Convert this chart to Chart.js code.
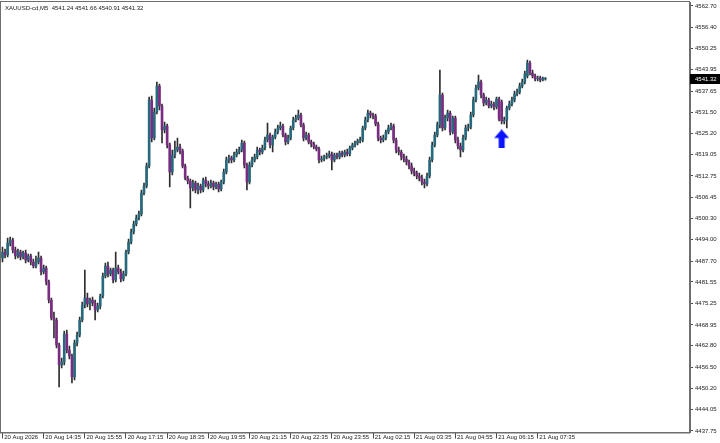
<!DOCTYPE html>
<html>
<head>
<meta charset="utf-8">
<script src="https://cdn.jsdelivr.net/npm/chart.js@4.4.1/dist/chart.umd.min.js"></script>
<style>
  html, body { margin: 0; padding: 0; background: #fff; }
</style>
</head>
<body>
<canvas id="chart" width="720" height="443"></canvas>
<script>
// XAUUSD M5, one entry per bar, left to right
const symbol = 'XAUUSD-cd,M5';

const opens = [
  4488.61,4490.37,4489.49,4493.02,4493.90,4490.96,4489.20,4490.37,4488.90,4490.08,
  4488.02,4489.20,4487.43,4486.26,4487.43,4488.61,4484.49,4485.67,4481.55,4476.26,
  4470.97,4470.38,4463.03,4457.15,4458.03,4466.26,4461.56,4459.80,4453.62,4463.62,
  4465.97,4470.38,4474.79,4476.85,4475.08,4476.26,4475.38,4473.32,4474.50,4477.44,
  4483.32,4486.26,4483.90,4485.08,4482.14,4485.67,4484.49,4482.43,4483.90,4490.37,
  4493.31,4496.25,4498.60,4500.37,4501.54,4507.72,4509.78,4515.66,4535.06,4523.89,
  4531.53,4539.18,4533.30,4526.24,4527.42,4521.83,4513.89,4518.89,4520.36,4521.24,
  4520.07,4515.66,4512.13,4511.25,4509.19,4510.66,4508.60,4509.78,4508.60,4511.54,
  4510.36,4509.78,4510.66,4509.48,4510.36,4508.89,4510.95,4513.89,4517.42,4518.01,
  4517.42,4518.89,4519.77,4520.36,4522.42,4515.95,4510.95,4515.95,4517.42,4518.30,
  4520.36,4519.77,4520.95,4523.30,4524.77,4521.83,4524.18,4525.65,4526.83,4527.42,
  4524.77,4522.71,4523.89,4526.83,4529.18,4529.77,4530.65,4527.71,4523.89,4524.77,
  4522.71,4522.12,4521.24,4520.65,4517.42,4517.71,4518.30,4518.60,4519.18,4517.42,
  4518.89,4518.30,4519.48,4518.89,4519.77,4519.18,4520.95,4521.83,4522.42,4523.01,
  4523.30,4526.83,4529.18,4531.24,4530.65,4530.36,4528.00,4523.89,4523.30,4523.89,
  4525.65,4526.83,4527.42,4523.30,4520.36,4519.77,4518.30,4517.71,4516.83,4515.66,
  4514.19,4513.60,4512.72,4512.13,4510.95,4510.36,4512.72,4517.42,4521.83,4524.77,
  4527.71,4536.53,4526.83,4529.77,4531.24,4525.65,4529.77,4523.30,4521.54,4520.36,
  4523.89,4526.83,4527.12,4530.65,4535.06,4538.59,4540.35,4536.53,4534.18,4535.06,
  4533.30,4533.88,4533.00,4535.35,4534.47,4528.89,4529.18,4532.71,4533.88,4535.06,
  4536.82,4537.41,4539.18,4540.35,4542.12,4545.94,4543.00,4542.12,4541.23,4541.53,
  4540.94,4541.24
];

const highs = [
  4491.84,4491.25,4494.49,4494.78,4494.49,4491.84,4491.25,4490.96,4490.67,4490.96,
  4489.78,4489.78,4488.31,4489.20,4490.37,4489.20,4486.55,4486.26,4482.14,4476.85,
  4472.73,4470.97,4463.62,4459.21,4467.15,4467.44,4462.74,4460.38,4464.50,4466.85,
  4471.26,4475.67,4485.08,4478.32,4476.85,4477.14,4476.26,4475.38,4478.02,4484.20,
  4487.14,4487.43,4485.67,4485.67,4490.37,4486.55,4485.37,4484.79,4490.96,4494.19,
  4497.13,4499.49,4501.25,4502.43,4508.60,4510.66,4516.54,4535.94,4536.24,4532.71,
  4540.35,4539.76,4533.88,4528.59,4528.00,4522.42,4520.36,4523.01,4523.89,4522.12,
  4520.65,4516.24,4512.72,4511.83,4511.54,4511.25,4510.66,4510.36,4512.13,4512.42,
  4511.25,4511.54,4511.25,4510.95,4510.95,4511.54,4514.77,4518.30,4518.89,4518.60,
  4519.77,4520.65,4521.24,4523.30,4523.01,4516.54,4516.83,4518.30,4519.18,4521.24,
  4520.95,4521.83,4524.18,4528.30,4525.36,4524.77,4526.53,4527.71,4528.59,4528.00,
  4525.36,4524.77,4527.42,4530.06,4530.65,4532.12,4531.24,4528.30,4525.65,4525.36,
  4523.30,4522.71,4521.83,4521.24,4518.60,4518.89,4519.48,4520.07,4519.77,4519.48,
  4519.48,4520.07,4520.07,4520.36,4520.65,4521.54,4522.42,4523.01,4523.59,4524.18,
  4527.42,4530.06,4532.12,4531.83,4531.24,4530.94,4528.59,4524.48,4524.77,4526.24,
  4527.71,4528.30,4528.00,4523.89,4521.24,4520.36,4519.18,4518.60,4517.42,4516.54,
  4515.07,4514.19,4513.60,4513.01,4511.83,4513.60,4518.30,4522.71,4525.65,4528.59,
  4543.88,4537.12,4530.65,4532.12,4531.83,4530.36,4530.36,4524.18,4522.42,4524.77,
  4527.71,4528.00,4531.53,4535.94,4539.47,4542.41,4540.94,4537.12,4535.94,4535.65,
  4534.77,4534.47,4535.94,4535.94,4535.06,4530.06,4533.30,4534.77,4535.94,4537.71,
  4538.29,4540.06,4541.23,4543.59,4546.82,4546.53,4543.88,4542.70,4542.12,4542.12,
  4541.82,4541.66
];

const lows = [
  4487.43,4488.61,4488.90,4492.14,4490.08,4488.31,4488.61,4488.02,4488.31,4487.14,
  4487.43,4486.55,4485.67,4485.67,4486.84,4483.61,4483.90,4480.67,4475.38,4470.38,
  4465.09,4462.15,4450.68,4456.27,4457.15,4460.68,4458.91,4451.86,4452.74,4462.74,
  4465.38,4469.79,4473.91,4474.20,4473.32,4474.50,4470.38,4472.73,4473.61,4476.85,
  4482.73,4483.02,4483.32,4481.26,4481.55,4483.90,4481.55,4481.85,4483.32,4489.78,
  4492.72,4495.66,4498.02,4499.78,4500.96,4507.13,4509.19,4515.07,4522.71,4523.30,
  4530.94,4532.12,4522.42,4525.36,4520.95,4509.48,4513.01,4518.01,4519.77,4519.18,
  4515.07,4511.54,4510.36,4503.31,4508.31,4507.72,4507.42,4507.72,4508.01,4509.48,
  4508.89,4509.19,4508.60,4508.89,4508.01,4508.31,4510.36,4513.30,4516.54,4516.54,
  4516.83,4518.30,4519.18,4519.77,4515.07,4508.60,4510.36,4515.36,4516.83,4517.71,
  4518.89,4519.18,4520.36,4522.71,4520.95,4519.77,4523.59,4525.06,4526.24,4524.18,
  4521.83,4522.12,4523.30,4526.24,4528.59,4529.18,4527.12,4523.01,4523.30,4522.12,
  4521.24,4520.65,4520.07,4516.54,4516.83,4517.13,4517.71,4518.01,4514.48,4516.83,
  4517.71,4517.71,4518.30,4518.30,4518.60,4518.60,4520.36,4521.24,4521.83,4522.42,
  4522.71,4526.24,4528.59,4529.77,4529.47,4527.42,4523.01,4522.42,4522.71,4523.30,
  4525.06,4526.24,4522.42,4519.48,4518.89,4517.42,4516.83,4515.95,4514.77,4513.30,
  4512.72,4511.83,4511.25,4510.07,4509.19,4509.78,4512.13,4516.83,4521.24,4524.18,
  4526.83,4525.95,4526.24,4528.89,4524.77,4525.06,4522.42,4520.65,4518.30,4519.77,
  4523.30,4525.95,4526.53,4530.06,4534.47,4538.00,4535.65,4533.30,4533.59,4532.71,
  4532.71,4532.12,4532.41,4528.89,4528.00,4528.00,4526.83,4532.12,4533.30,4534.47,
  4536.24,4536.82,4538.59,4539.76,4541.53,4542.41,4541.53,4540.65,4540.65,4540.35,
  4540.65,4540.91
];

const closes = [
  4490.37,4489.49,4493.02,4493.90,4490.96,4489.20,4490.37,4488.90,4490.08,4488.02,
  4489.20,4487.43,4486.26,4487.43,4488.61,4484.49,4485.67,4481.55,4476.26,4470.97,
  4470.38,4463.03,4457.15,4458.03,4466.26,4461.56,4459.80,4453.62,4463.62,4465.97,
  4470.38,4474.79,4476.85,4475.08,4476.26,4475.38,4473.32,4474.50,4477.44,4483.32,
  4486.26,4483.90,4485.08,4482.14,4485.67,4484.49,4482.43,4483.90,4490.37,4493.31,
  4496.25,4498.60,4500.37,4501.54,4507.72,4509.78,4515.66,4535.06,4523.89,4531.53,
  4539.18,4533.30,4526.24,4527.42,4521.83,4513.89,4518.89,4520.36,4521.24,4520.07,
  4515.66,4512.13,4511.25,4509.19,4510.66,4508.60,4509.78,4508.60,4511.54,4510.36,
  4509.78,4510.66,4509.48,4510.36,4508.89,4510.95,4513.89,4517.42,4518.01,4517.42,
  4518.89,4519.77,4520.36,4522.42,4515.95,4510.95,4515.95,4517.42,4518.30,4520.36,
  4519.77,4520.95,4523.30,4524.77,4521.83,4524.18,4525.65,4526.83,4527.42,4524.77,
  4522.71,4523.89,4526.83,4529.18,4529.77,4530.65,4527.71,4523.89,4524.77,4522.71,
  4522.12,4521.24,4520.65,4517.42,4517.71,4518.30,4518.60,4519.18,4517.42,4518.89,
  4518.30,4519.48,4518.89,4519.77,4519.18,4520.95,4521.83,4522.42,4523.01,4523.30,
  4526.83,4529.18,4531.24,4530.65,4530.36,4528.00,4523.89,4523.30,4523.89,4525.65,
  4526.83,4527.42,4523.30,4520.36,4519.77,4518.30,4517.71,4516.83,4515.66,4514.19,
  4513.60,4512.72,4512.13,4510.95,4510.36,4512.72,4517.42,4521.83,4524.77,4527.71,
  4536.53,4526.83,4529.77,4531.24,4525.65,4529.77,4523.30,4521.54,4520.36,4523.89,
  4526.83,4527.12,4530.65,4535.06,4538.59,4540.35,4536.53,4534.18,4535.06,4533.30,
  4533.88,4533.00,4535.35,4529.47,4528.89,4529.18,4532.71,4533.88,4535.06,4536.82,
  4537.41,4539.18,4540.35,4542.70,4545.94,4543.00,4542.12,4541.23,4541.53,4540.94,
  4541.53,4541.32
];

// time axis labels sit on every 16th bar
const timeTickBars = [0, 16, 32, 48, 64, 80, 96, 112, 128, 144, 160, 176, 192, 208];
const timeTickLabels = [
  '20 Aug 2026', '20 Aug 14:35', '20 Aug 15:55', '20 Aug 17:15', '20 Aug 18:35',
  '20 Aug 19:55', '20 Aug 21:15', '20 Aug 22:35', '20 Aug 23:55', '21 Aug 02:15',
  '21 Aug 03:35', '21 Aug 04:55', '21 Aug 06:15', '21 Aug 07:35'
];

const priceTicks = [
  4562.70, 4556.40, 4550.25, 4543.95, 4537.65, 4531.50, 4525.20, 4519.05, 4512.75,
  4506.45, 4500.30, 4494.00, 4487.70, 4481.55, 4475.25, 4468.95, 4462.80, 4456.50,
  4450.20, 4444.05, 4437.75
];

// buy arrow
const arrowBar = 194;
const arrowPrice = 4523.6;

const bullColor = '#276a7e';
const bearColor = '#7a2c82';
const wickColor = '#2e2e2e';
const axisFont = { family: 'Liberation Sans', size: 6 };

const last = opens.length - 1;
const header = symbol + '  ' + [opens[last], highs[last], lows[last], closes[last]]
  .map(v => v.toFixed(2)).join(' ');

function arrowImage() {
  const c = document.createElement('canvas');
  c.width = 15; c.height = 19;
  const g = c.getContext('2d');
  g.fillStyle = '#0a12ff';
  g.beginPath();
  g.moveTo(7.5, 0);
  g.lineTo(15, 8.5);
  g.lineTo(10.5, 8.5);
  g.lineTo(10.5, 19);
  g.lineTo(4.5, 19);
  g.lineTo(4.5, 8.5);
  g.lineTo(0, 8.5);
  g.closePath();
  g.fill();
  return c;
}

const framePlugin = {
  id: 'frame',
  afterDraw(chart) {
    const { ctx, chartArea: a, scales: { y } } = chart;
    ctx.save();
    ctx.strokeStyle = '#6e6e6e';
    ctx.lineWidth = 1;
    ctx.strokeRect(a.left - 0.5, a.top - 0.5, a.right - a.left, a.bottom - a.top + 1);

    ctx.font = '6px "Liberation Sans"';
    ctx.textBaseline = 'middle';
    ctx.fillStyle = '#1a1a1a';
    ctx.fillText(header, a.left + 4, a.top + 6.5);

    // current price tag on the price scale
    const py = Math.round(y.getPixelForValue(closes[last]));
    ctx.fillStyle = '#000';
    ctx.fillRect(a.right, py - 5, 720 - a.right, 10);
    ctx.fillStyle = '#fff';
    ctx.fillText(closes[last].toFixed(2), a.right + 5, py);
    ctx.restore();
  }
};

new Chart(document.getElementById('chart'), {
  type: 'bar',
  data: {
    datasets: [
      {
        type: 'scatter',
        data: [{ x: arrowBar, y: arrowPrice }],
        pointStyle: arrowImage(),
        order: 0
      },
      {
        data: opens.map((o, i) => ({ x: i, y: [o, closes[i]] })),
        backgroundColor: opens.map((o, i) => closes[i] >= o ? bullColor : bearColor),
        barThickness: 2,
        minBarLength: 1,
        grouped: false,
        order: 1
      },
      {
        data: lows.map((l, i) => ({ x: i, y: [l, highs[i]] })),
        backgroundColor: wickColor,
        barThickness: 1,
        grouped: false,
        order: 2
      }
    ]
  },
  options: {
    responsive: false,
    animation: false,
    devicePixelRatio: 1,
    layout: { autoPadding: false, padding: { left: 1, top: 2, right: 0, bottom: 0 } },
    plugins: { legend: { display: false }, tooltip: { enabled: false } },
    scales: {
      x: {
        type: 'linear',
        min: -0.58,
        max: 267.2,
        offset: false,
        grid: { drawOnChartArea: false, offset: false, tickLength: 6, color: '#4a4a4a' },
        border: { color: '#6e6e6e' },
        afterBuildTicks: s => { s.ticks = timeTickBars.map(v => ({ value: v })); },
        afterFit: s => { s.height = 10.5; s.paddingLeft = 0; s.paddingRight = 0; },
        ticks: {
          align: 'start',
          padding: -5,
          maxRotation: 0,
          autoSkip: false,
          color: '#1a1a1a',
          font: axisFont,
          callback: v => ' ' + timeTickLabels[timeTickBars.indexOf(v)]
        }
      },
      y: {
        position: 'right',
        min: 4437.3,
        max: 4563.87,
        grid: { drawOnChartArea: false, tickLength: 3, color: '#4a4a4a' },
        border: { color: '#6e6e6e' },
        afterBuildTicks: s => { s.ticks = priceTicks.map(v => ({ value: v })); },
        afterFit: s => { s.width = 30; s.paddingTop = 0; s.paddingBottom = 0; },
        ticks: {
          padding: 2,
          color: '#1a1a1a',
          font: axisFont,
          callback: v => v.toFixed(2)
        }
      }
    }
  },
  plugins: [framePlugin]
});
</script>
</body>
</html>
